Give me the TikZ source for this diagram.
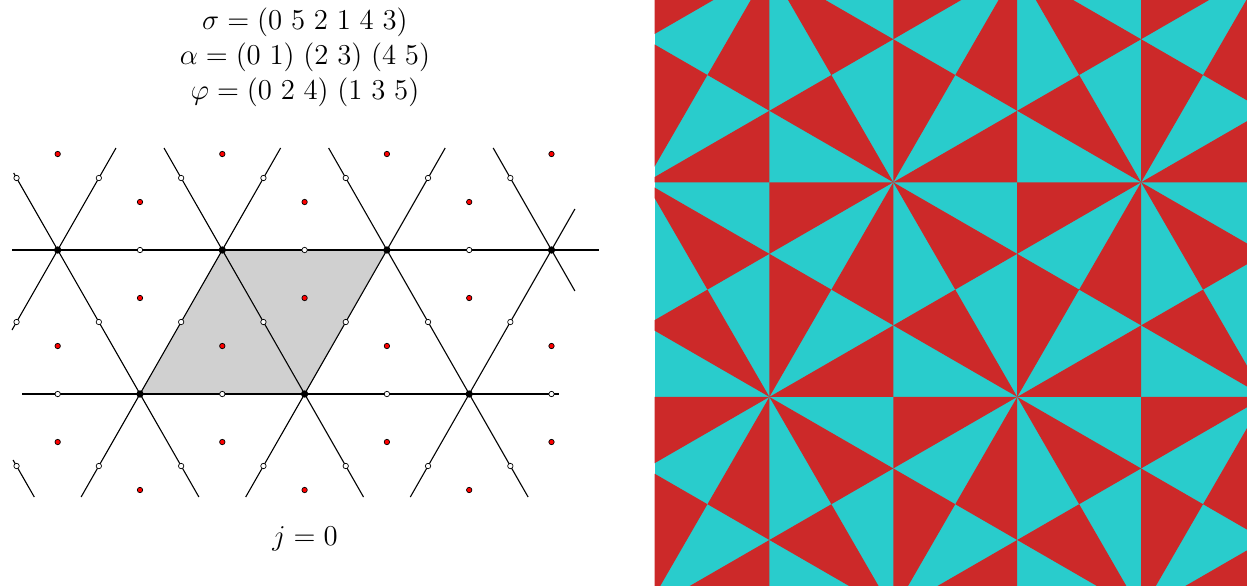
\documentclass[tikz,border=0pt]{standalone}
\usepackage{amsmath}
\definecolor{tilered}{RGB}{204,41,41}
\definecolor{tilecyan}{RGB}{41,204,204}
\definecolor{cellgray}{RGB}{208,208,208}
\begin{document}
\begin{tikzpicture}[x=0.5pt, y=-0.5pt,
    vertex/.style = {draw, circle, fill=black, inner sep=0pt, minimum size=3.2pt},
    edgept/.style = {draw, circle, fill=white, inner sep=0pt, minimum size=2.7pt, line width=0.35pt},
    facept/.style = {draw, circle, fill=red, inner sep=0pt, minimum size=2.7pt, line width=0.35pt},
    lattice/.style = {line width=0.55pt},
    perm/.style = {font=\fontsize{13.5}{17.4}\selectfont, align=center}]
    \useasboundingbox (0,0) rectangle (1247,585);

    % fundamental domain
    \fill[cellgray] (140,394) -- (222.3,250) -- (386.9,250) -- (304.6,394) -- cycle;

    % lifted edges
    \draw[lattice] (12,250) -- (599,250);
    \draw[lattice] (22,394) -- (559,394);
    \draw[lattice] (13.7,173) -- (198.9,497);
    \draw[lattice] (12,330) -- (116,148);
    \draw[lattice] (81.1,497) -- (280.6,148);
    \draw[lattice] (164,148) -- (363.5,497);
    \draw[lattice] (245.7,497) -- (445.2,148);
    \draw[lattice] (328.6,148) -- (528.1,497);
    \draw[lattice] (410.3,497) -- (574.9,209);
    \draw[lattice] (493.2,148) -- (574.9,291);
    \draw[lattice] (13.1,460) -- (34.3,497);

    % edge midpoints
    \foreach \y in {178,322,466}
      \foreach \k in {0,...,6}
        \node[edgept] (e\y-\k) at (16.55+82.3*\k,\y) {};
    \foreach \x [count=\n] in {140,304.6,469.2}
      \node[edgept] (eu\n) at (\x,250) {};
    \foreach \x [count=\n] in {57.7,222.3,386.9,551.5}
      \node[edgept] (ed\n) at (\x,394) {};

    % face centres
    \foreach \y in {154,346,442}
      \foreach \x [count=\n] in {57.7,222.3,386.9,551.5}
        \node[facept] (f\y-\n) at (\x,\y) {};
    \foreach \y in {202,298,490}
      \foreach \x [count=\n] in {140,304.6,469.2}
        \node[facept] (f\y-\n) at (\x,\y) {};

    % vertices
    \foreach \x [count=\n] in {57.7,222.3,386.9,551.5}
      \node[vertex] (vu\n) at (\x,250) {};
    \foreach \x [count=\n] in {140,304.6,469.2}
      \node[vertex] (vd\n) at (\x,394) {};

    \node[perm] (perms) at (305,57.5) {$\sigma = (0\ 5\ 2\ 1\ 4\ 3)$\\
        $\alpha = (0\ 1)\ (2\ 3)\ (4\ 5)$\\
        $\varphi = (0\ 2\ 4)\ (1\ 3\ 5)$};
    \node[perm] (jlabel) at (305,539) {$j = 0$};

    % coloured tiling
    \begin{scope}
      \clip (654.5,-10) rectangle (1260,600);
      \fill[tilecyan] (654.5,-10) rectangle (1260,600);
      \begin{scope}[shift={(645.5,182.3)}, x={(123.9pt,0pt)}, y={(61.95pt,107.3pt)}]
        \foreach \i in {-2,...,3}
          \foreach \j in {-2,-1,0} {
            % upward triangle
            \fill[tilered] (\i,\j) -- (\i+0.5,\j) -- (\i+1/3,\j+1/3) -- cycle;
            \fill[tilered] (\i+1,\j) -- (\i+0.5,\j+0.5) -- (\i+1/3,\j+1/3) -- cycle;
            \fill[tilered] (\i,\j+1) -- (\i,\j+0.5) -- (\i+1/3,\j+1/3) -- cycle;
            % downward triangle
            \fill[tilered] (\i+1,\j) -- (\i+1,\j+0.5) -- (\i+2/3,\j+2/3) -- cycle;
            \fill[tilered] (\i+1,\j+1) -- (\i+0.5,\j+1) -- (\i+2/3,\j+2/3) -- cycle;
            \fill[tilered] (\i,\j+1) -- (\i+0.5,\j+0.5) -- (\i+2/3,\j+2/3) -- cycle;
          }
      \end{scope}
    \end{scope}
\end{tikzpicture}
\end{document}
